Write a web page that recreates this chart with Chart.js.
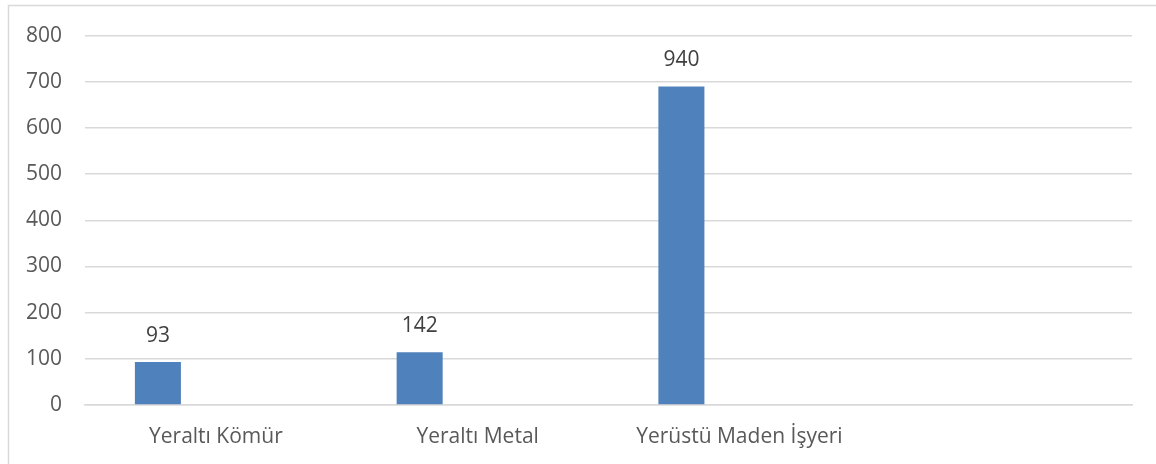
<!DOCTYPE html>
<html>
<head>
<meta charset="utf-8">
<script src="https://cdn.jsdelivr.net/npm/chart.js@4/dist/chart.umd.min.js"></script>
<style>
  html, body { margin: 0; padding: 0; background: #ffffff; }
  #wrap { position: relative; width: 1156px; height: 464px; }
</style>
</head>
<body>
<div id="wrap"><canvas id="c" width="1156" height="464"></canvas></div>
<script>
const categories = ['Yeraltı Kömür', 'Yeraltı Metal', 'Yerüstü Maden İşyeri', ''];
const barValues = [93, 114, 690, null];
const valueLabels = ['93', '142', '940', ''];
const yMin = 0, yMax = 800, yStep = 100;

const FONT = "'Open Sans', 'DejaVu Sans', sans-serif";

const framePlugin = {
  id: 'frame',
  beforeDraw(chart) {
    const ctx = chart.ctx;
    ctx.save();
    ctx.strokeStyle = '#d9d9d9';
    ctx.lineWidth = 1.5;
    ctx.beginPath();
    ctx.moveTo(8.5, 470);
    ctx.lineTo(8.5, 5.5);
    ctx.lineTo(1160, 5.5);
    ctx.stroke();
    ctx.restore();
  }
};

const labelPlugin = {
  id: 'valueLabels',
  afterDatasetsDraw(chart) {
    const ctx = chart.ctx;
    const meta = chart.getDatasetMeta(0);
    ctx.save();
    ctx.fillStyle = '#404040';
    ctx.font = '21px ' + FONT;
    ctx.textAlign = 'center';
    ctx.textBaseline = 'middle';
    meta.data.forEach((bar, i) => {
      if (!valueLabels[i] || barValues[i] == null) return;
      ctx.fillText(valueLabels[i], bar.x, bar.y - 26);
    });
    ctx.restore();
  }
};

new Chart(document.getElementById('c'), {
  type: 'bar',
  data: {
    labels: categories,
    datasets: [
      {
        label: 'Seri 1',
        data: barValues,
        backgroundColor: '#4f81bd',
        borderWidth: 0,
        categoryPercentage: 0.886,
        barPercentage: 0.397
      },
      {
        label: 'Seri 2',
        data: [null, null, null, null],
        backgroundColor: '#c0504d',
        categoryPercentage: 0.886,
        barPercentage: 0.397
      }
    ]
  },
  options: {
    responsive: false,
    animation: false,
    devicePixelRatio: 1,
    layout: { padding: { top: 34, right: 24, left: 0, bottom: 0 } },
    plugins: {
      legend: { display: false },
      tooltip: { enabled: false }
    },
    scales: {
      x: {
        grid: { display: false, drawTicks: false },
        border: { display: true, color: '#d9d9d9', width: 1.5 },
        ticks: {
          color: '#595959',
          font: { family: FONT, size: 21 },
          padding: 19,
          maxRotation: 0,
          autoSkip: false
        },
        afterFit(axis) { axis.height = 59; }
      },
      y: {
        min: yMin,
        max: yMax,
        grid: { color: '#d9d9d9', lineWidth: 1.5, drawTicks: false },
        border: { display: false },
        ticks: {
          stepSize: yStep,
          color: '#595959',
          font: { family: FONT, size: 21 },
          padding: 23
        },
        afterFit(axis) { axis.width = 85; }
      }
    }
  },
  plugins: [framePlugin, labelPlugin]
});
</script>
</body>
</html>
